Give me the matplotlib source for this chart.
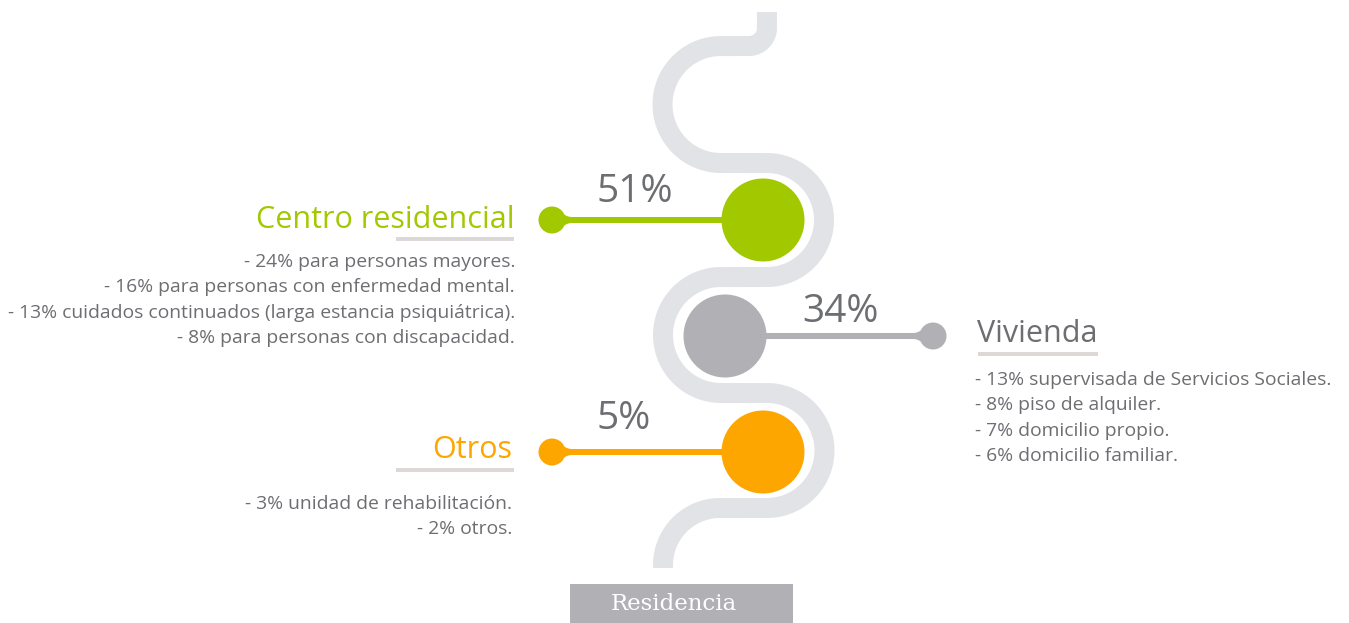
import numpy as np
import matplotlib
matplotlib.use("Agg")
import matplotlib.pyplot as plt
from matplotlib.patches import Circle, Rectangle, Polygon

# Data read from the infographic
categories = ["Centro residencial", "Vivienda", "Otros"]
totals = [51, 34, 5]
sub_pcts = [[24, 16, 13, 8], [13, 8, 7, 6], [3, 2]]
sub_labels = [
    ["para personas mayores.", "para personas con enfermedad mental.",
     "cuidados continuados (larga estancia psiquiátrica).", "para personas con discapacidad."],
    ["supervisada de Servicios Sociales.", "piso de alquiler.", "domicilio propio.", "domicilio familiar."],
    ["unidad de rehabilitación.", "otros."],
]
footer = "Residencia"

colors = ["#a2c800", "#b1b0b5", "#fea600"]
TEXT_GRAY = "#6d6e72"
SNAKE = "#e2e3e6"
UNDERLINE = "#ddd7d5"
FONT = "Open Sans"

W, H = 1349, 623
fig = plt.figure(figsize=(W / 100, H / 100), dpi=100)
ax = fig.add_axes([0, 0, 1, 1])
ax.set_xlim(0, W)
ax.set_ylim(H, 0)
ax.axis("off")


def arc(cx, cy, r, t0, t1, n=60):
    t = np.linspace(t0, t1, n)
    return cx + r * np.cos(t), cy + r * np.sin(t)


# snake path (pixel coordinates, y down)
xs, ys = [767.0], [12.0]
pieces = [
    arc(749, 28, 18, 0, np.pi / 2),
    arc(721, 104.5, 58.5, -np.pi / 2, -3 * np.pi / 2),
    arc(767, 220, 57, -np.pi / 2, np.pi / 2),
    arc(721, 335, 58, -np.pi / 2, -3 * np.pi / 2),
    arc(767, 450.5, 57.5, -np.pi / 2, np.pi / 2),
    arc(720, 565, 57, -np.pi / 2, -np.pi),
]
for px, py in pieces:
    xs.extend(px)
    ys.extend(py)
xs.append(663)
ys.append(568)
ax.plot(xs, ys, color=SNAKE, lw=20 * 0.72, solid_capstyle="butt", solid_joinstyle="round", zorder=1)

# markers: big circle, connector line, small end dot with a soft neck
layout = [
    dict(cx=763, cy=220, dot=552, pct_x=635, pct_y=192),
    dict(cx=725, cy=336, dot=933, pct_x=840, pct_y=312),
    dict(cx=763, cy=452, dot=552, pct_x=624, pct_y=419),
]
for i, L in enumerate(layout):
    c = colors[i]
    cy = L["cy"]
    ax.add_patch(Circle((L["cx"], cy), 41.5, color=c, zorder=3, lw=0))
    ax.plot([L["dot"], L["cx"]], [cy, cy], color=c, lw=6 * 0.72, solid_capstyle="butt", zorder=2)
    ax.add_patch(Circle((L["dot"], cy), 13.5, color=c, zorder=3, lw=0))
    s = 1 if L["dot"] < L["cx"] else -1
    u = np.linspace(0, 1, 20)
    nx = L["dot"] + s * (6 + 14 * u)
    half = 3 + 8 * (1 - u) ** 2
    pts = list(zip(nx, cy - half)) + list(zip(nx[::-1], (cy + half)[::-1]))
    ax.add_patch(Polygon(pts, closed=True, color=c, lw=0, zorder=2))
    ax.text(L["pct_x"], L["pct_y"], f"{totals[i]}%", fontsize=28, color=TEXT_GRAY, family=FONT,
            ha="center", va="center", zorder=4)

# category titles, underlines and detail lists
titles = [
    dict(x=515, y=220, ha="right", ul=(396, 514, 239), ly=262),
    dict(x=977, y=334, ha="left", ul=(978, 1098, 354), ly=380),
    dict(x=512, y=450, ha="right", ul=(396, 514, 470), ly=504),
]
for i, T in enumerate(titles):
    tc = TEXT_GRAY if i == 1 else colors[i]
    ax.text(T["x"], T["y"], categories[i], fontsize=22, color=tc, family=FONT,
            ha=T["ha"], va="center", zorder=4)
    ax.plot(T["ul"][:2], [T["ul"][2]] * 2, color=UNDERLINE, lw=4 * 0.72, solid_capstyle="butt")
    for j, (p, lab) in enumerate(zip(sub_pcts[i], sub_labels[i])):
        ax.text(T["x"] if T["ha"] == "right" else T["x"] - 2, T["ly"] + j * 25.3, f"- {p}% {lab}",
                fontsize=13.9, color=TEXT_GRAY, family=FONT, ha=T["ha"], va="center")

# footer box
ax.add_patch(Rectangle((570, 584), 223, 39, color="#b1b0b5", lw=0))
ax.text(674, 603.5, footer, fontsize=16.5, color="white", family="DejaVu Serif",
        ha="center", va="center")

fig.savefig("out.png", dpi=100)
